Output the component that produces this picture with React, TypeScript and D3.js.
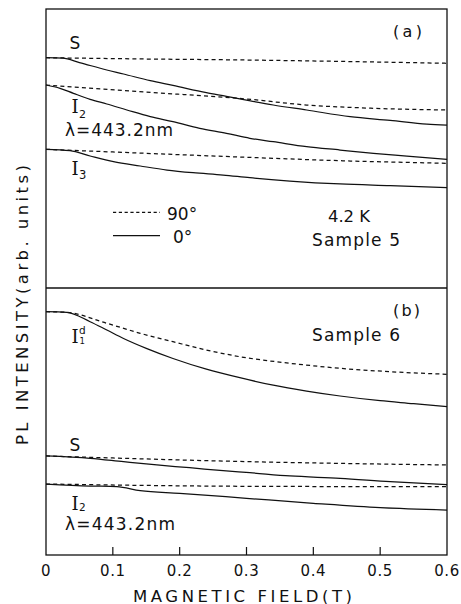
import React from 'react';
import * as d3 from 'd3';

// ---------- data (field in T, PL intensity in arb. units) ----------
const xTickValues = [0, 0.1, 0.2, 0.3, 0.4, 0.5, 0.6];
const xTickLabels = ['0', '0.1', '0.2', '0.3', '0.4', '0.5', '0.6'];
const innerTickValues = [0.1, 0.2, 0.3, 0.4, 0.5];

// Panel (a) – Sample 5
const aS90: [number, number][] = [[0, 82.54], [0.15, 82.08], [0.3, 81.72], [0.45, 81.18], [0.6, 80.54]];
const aS0: [number, number][] = [
  [0, 82.54], [0.025, 82.35], [0.05, 80.8], [0.091, 78.14], [0.116, 76.7], [0.156, 74.3],
  [0.19, 72.6], [0.24, 70.0], [0.27, 68.7], [0.29, 67.8], [0.34, 65.59], [0.39, 63.8],
  [0.455, 61.4], [0.515, 60.1], [0.57, 58.78], [0.6, 58.42],
];
const aI2_90: [number, number][] = [[0, 72.76], [0.14, 70.36], [0.3, 67.74], [0.39, 65.59], [0.49, 64.41], [0.6, 63.8]];
const aI2_0: [number, number][] = [
  [0, 72.76], [0.021, 71.58], [0.041, 69.78], [0.066, 67.63], [0.091, 65.95], [0.121, 63.8],
  [0.156, 61.4], [0.19, 59.61], [0.23, 57.24], [0.27, 55.45], [0.305, 53.66], [0.34, 52.44],
  [0.39, 50.65], [0.44, 49.46], [0.49, 48.28], [0.54, 47.31], [0.6, 46.13],
];
const aI3_90: [number, number][] = [[0, 49.71], [0.1, 48.75], [0.3, 46.85], [0.44, 45.63], [0.6, 44.7]];
const aI3_0: [number, number][] = [
  [0, 49.71], [0.036, 49.21], [0.066, 47.31], [0.101, 45.27], [0.141, 43.73], [0.181, 42.29],
  [0.22, 41.33], [0.265, 40.5], [0.305, 39.53], [0.365, 38.35], [0.44, 37.28], [0.515, 36.67], [0.6, 35.95],
];

// Panel (b) – Sample 6
const bI1d_90: [number, number][] = [
  [0, 91.12], [0.03, 90.9], [0.091, 86.78], [0.141, 83.03], [0.19, 79.89], [0.24, 76.78],
  [0.29, 74.27], [0.365, 71.8], [0.44, 69.93], [0.515, 68.65], [0.6, 67.68],
];
const bI1d_0: [number, number][] = [
  [0, 91.12], [0.031, 90.9], [0.066, 87.38], [0.091, 84.27], [0.116, 81.1], [0.151, 77.3],
  [0.19, 73.6], [0.24, 69.6], [0.29, 66.4], [0.34, 63.6], [0.39, 61.4],
  [0.44, 59.55], [0.5, 57.79], [0.55, 56.7], [0.6, 55.54],
];
const bS90: [number, number][] = [[0, 37.08], [0.1, 36.33], [0.305, 34.94], [0.45, 34.27], [0.6, 33.71]];
const bS0: [number, number][] = [
  [0, 37.08], [0.066, 36.22], [0.116, 34.94], [0.166, 33.71], [0.215, 32.7], [0.265, 31.57],
  [0.305, 30.82], [0.365, 29.59], [0.44, 28.73], [0.515, 27.45], [0.6, 26.33],
];
const bI2_90: [number, number][] = [[0, 26.59], [0.3, 25.73], [0.6, 25.58]];
const bI2_0: [number, number][] = [
  [0, 26.59], [0.066, 25.84], [0.106, 25.58], [0.141, 24.08], [0.2, 23.11], [0.3, 21.24],
  [0.4, 19.36], [0.5, 17.72], [0.6, 16.85],
];

// ---------- layout ----------
const W = 461;
const H = 604;
const left = 46;
const right = 447;
const top = 9;
const mid = 288;
const bottom = 555;

const INK = '#111';
const SANS = '"DejaVu Sans", sans-serif';
const SERIF = '"DejaVu Serif", serif';

export default function App() {
  const x = d3.scaleLinear().domain([0, 0.6]).range([left, right]);
  const yA = d3.scaleLinear().domain([0, 100]).range([mid, top]);
  const yB = d3.scaleLinear().domain([0, 100]).range([bottom, mid]);

  const lineA = d3.line<[number, number]>().x(d => x(d[0])).y(d => yA(d[1])).curve(d3.curveMonotoneX);
  const lineB = d3.line<[number, number]>().x(d => x(d[0])).y(d => yB(d[1])).curve(d3.curveMonotoneX);

  const dashed = '4 3.2';
  const curves = [
    { d: lineA(aS90), dash: dashed },
    { d: lineA(aS0), dash: undefined },
    { d: lineA(aI2_90), dash: dashed },
    { d: lineA(aI2_0), dash: undefined },
    { d: lineA(aI3_90), dash: dashed },
    { d: lineA(aI3_0), dash: undefined },
    { d: lineB(bI1d_90), dash: dashed },
    { d: lineB(bI1d_0), dash: undefined },
    { d: lineB(bS90), dash: dashed },
    { d: lineB(bS0), dash: undefined },
    { d: lineB(bI2_90), dash: dashed },
    { d: lineB(bI2_0), dash: undefined },
  ];

  return (
    <svg
      width={W}
      height={H}
      viewBox={`0 0 ${W} ${H}`}
      style={{ position: 'absolute', left: 0, top: 0, background: '#fff' }}
    >
      <rect x={0} y={0} width={W} height={H} fill="#fff" />

      {/* frame */}
      <rect x={left} y={top} width={right - left} height={bottom - top} fill="none" stroke={INK} strokeWidth={1.3} />
      <line x1={left} x2={right} y1={mid} y2={mid} stroke={INK} strokeWidth={1.3} />

      {/* inward ticks on the bottom axis */}
      {innerTickValues.map(t => (
        <line key={t} x1={x(t)} x2={x(t)} y1={bottom} y2={bottom - 8} stroke={INK} strokeWidth={1.2} />
      ))}

      {/* tick labels */}
      {xTickValues.map((t, i) => (
        <text key={t} x={x(t)} y={575.5} textAnchor="middle" fontFamily={SANS} fontSize={15} fill={INK}
          letterSpacing={0.6}>
          {xTickLabels[i]}
        </text>
      ))}

      {/* axis titles */}
      <text x={133} y={601.5} fontFamily={SANS} fontSize={16.5} fill={INK} textLength={219} lengthAdjust="spacing">
        MAGNETIC FIELD(T)
      </text>
      <text
        transform="translate(27.5,305) rotate(-90)"
        textAnchor="middle"
        fontFamily={SANS}
        fontSize={16.5}
        fill={INK}
        textLength={280}
        lengthAdjust="spacing"
      >
        PL INTENSITY(arb. units)
      </text>

      {/* curves */}
      {curves.map((c, i) => (
        <path key={i} d={c.d || ''} fill="none" stroke={INK} strokeWidth={1.25} strokeDasharray={c.dash} />
      ))}

      {/* panel (a) annotations */}
      <text x={393} y={36.5} fontFamily={SANS} fontSize={16} fill={INK} textLength={29} lengthAdjust="spacing">(a)</text>
      <text x={69.5} y={49} fontFamily={SANS} fontSize={17} fill={INK}>S</text>
      <text x={71.5} y={113} fontFamily={SERIF} fontSize={18} fill={INK}>I</text>
      <text x={79} y={117.5} fontFamily={SANS} fontSize={11} fill={INK}>2</text>
      <text x={65} y={136} fontFamily={SANS} fontSize={17} fill={INK} textLength={108} lengthAdjust="spacing">λ=443.2nm</text>
      <text x={71.5} y={175} fontFamily={SERIF} fontSize={18} fill={INK}>I</text>
      <text x={79} y={179} fontFamily={SANS} fontSize={11.5} fill={INK}>3</text>

      {/* legend */}
      <line x1={113} x2={160} y1={212.3} y2={212.3} stroke={INK} strokeWidth={1.2} strokeDasharray="3.2 2.6" />
      <text x={167} y={220} fontFamily={SANS} fontSize={17} fill={INK}>90°</text>
      <line x1={113} x2={160} y1={235.7} y2={235.7} stroke={INK} strokeWidth={1.2} />
      <text x={173} y={243} fontFamily={SANS} fontSize={17} fill={INK}>0°</text>
      <text x={328} y={222} fontFamily={SANS} fontSize={16.5} fill={INK} textLength={42} lengthAdjust="spacing">4.2 K</text>
      <text x={312} y={245.5} fontFamily={SANS} fontSize={17} fill={INK} textLength={88} lengthAdjust="spacing">Sample 5</text>

      {/* panel (b) annotations */}
      <text x={393} y={315.5} fontFamily={SANS} fontSize={16} fill={INK} textLength={27} lengthAdjust="spacing">(b)</text>
      <text x={312} y={340.5} fontFamily={SANS} fontSize={17} fill={INK} textLength={88} lengthAdjust="spacing">Sample 6</text>
      <text x={71.5} y={342.5} fontFamily={SERIF} fontSize={18} fill={INK}>I</text>
      <text x={79} y={333.5} fontFamily={SANS} fontSize={10.5} fill={INK}>d</text>
      <text x={79.5} y={344} fontFamily={SANS} fontSize={8.5} fill={INK}>1</text>
      <text x={69.5} y={450.5} fontFamily={SANS} fontSize={17} fill={INK}>S</text>
      <text x={71.5} y={509.5} fontFamily={SERIF} fontSize={18} fill={INK}>I</text>
      <text x={79} y={510.5} fontFamily={SANS} fontSize={10.5} fill={INK}>2</text>
      <text x={65} y={530} fontFamily={SANS} fontSize={17} fill={INK} textLength={110} lengthAdjust="spacing">λ=443.2nm</text>
    </svg>
  );
}
